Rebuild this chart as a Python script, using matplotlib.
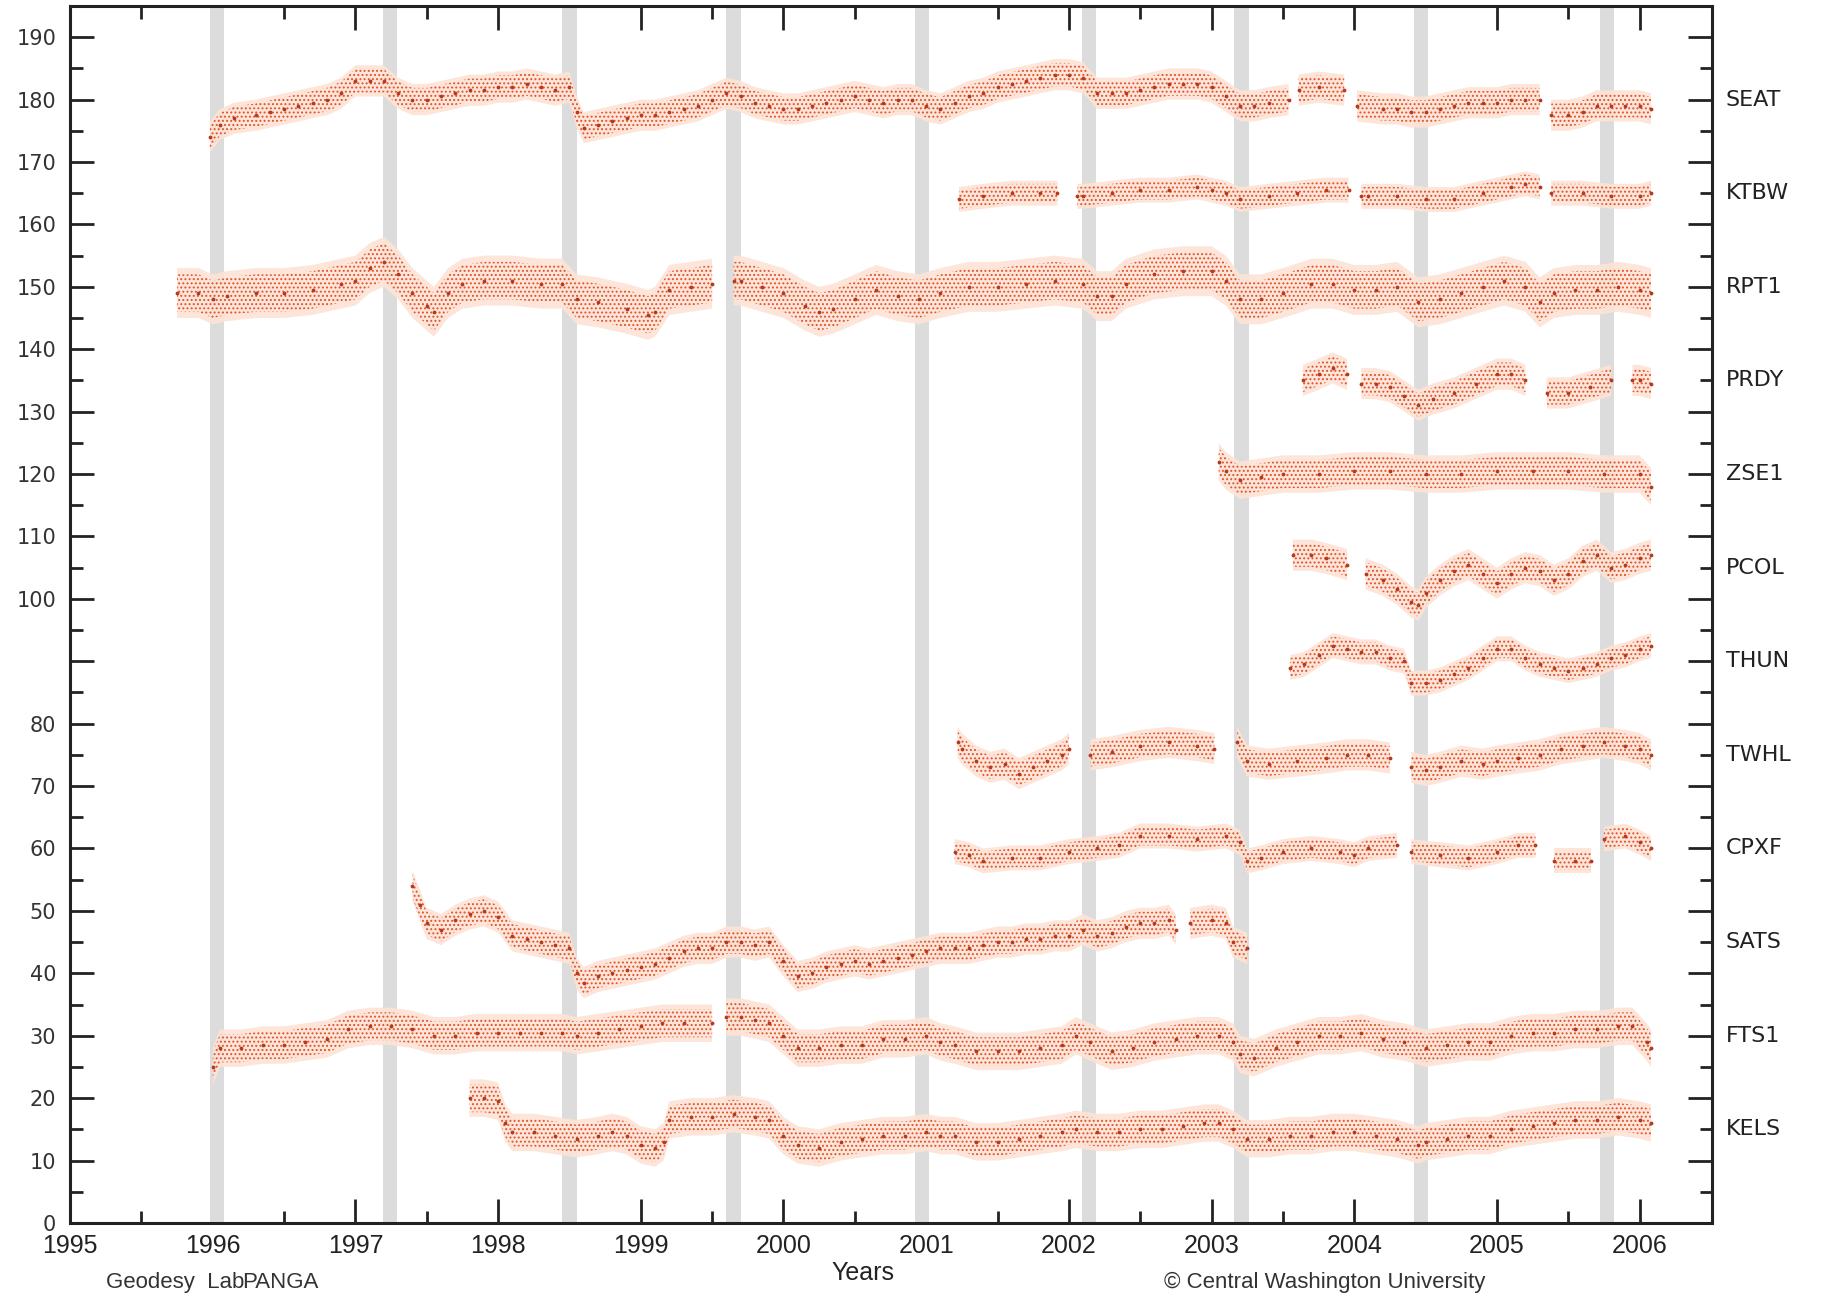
import numpy as np
import matplotlib
matplotlib.use("Agg")
import matplotlib.pyplot as plt

# GPS vertical time series, PANGA stations (offset for display, mm)
stations = ["SEAT", "KTBW", "RPT1", "PRDY", "ZSE1", "PCOL",
            "THUN", "TWHL", "CPXF", "SATS", "FTS1", "KELS"]
label_levels = [180, 165, 150, 135, 120, 105, 90, 75, 60, 45, 30, 15]
scatter_mm = [2.5, 2.0, 4.0, 2.5, 3.0, 2.5, 2.0, 2.5, 2.0, 2.5, 3.0, 3.0]

# episodic tremor and slip events (grey bars)
ets_years = [1996.03, 1997.24, 1998.50, 1999.65, 2000.97,
             2002.14, 2003.21, 2004.47, 2005.77]

nan = np.nan

seat_t = [1995.98, 1996.05, 1996.15, 1996.3, 1996.4, 1996.5, 1996.6, 1996.7, 1996.8, 1996.9,
          1997.0, 1997.1, 1997.2, 1997.3, 1997.4, 1997.5, 1997.6, 1997.7, 1997.8, 1997.9,
          1998.0, 1998.1, 1998.2, 1998.3, 1998.4, 1998.5, 1998.55, 1998.6, 1998.7, 1998.8,
          1998.9, 1999.0, 1999.1, 1999.2, 1999.3, 1999.4, 1999.5, 1999.6, 1999.7, 1999.8,
          1999.9, 2000.0, 2000.1, 2000.2, 2000.3, 2000.4, 2000.5, 2000.6, 2000.7, 2000.8,
          2000.9, 2001.0, 2001.1, 2001.2, 2001.3, 2001.4, 2001.5, 2001.6, 2001.7, 2001.8,
          2001.9, 2002.0, 2002.1, 2002.2, 2002.3, 2002.4, 2002.5, 2002.6, 2002.7, 2002.8,
          2002.9, 2003.0, 2003.1, 2003.2, 2003.3, 2003.4, 2003.54, 2003.57, 2003.61, 2003.75,
          2003.93, 2003.97, 2004.02, 2004.2, 2004.3, 2004.4, 2004.5, 2004.6, 2004.7, 2004.8,
          2004.9, 2005.0, 2005.1, 2005.2, 2005.3, 2005.34, 2005.38, 2005.5, 2005.6, 2005.7,
          2005.8, 2005.9, 2006.0, 2006.08]
seat_v = [174, 176, 177, 177.5, 178, 178.5, 179, 179.5, 180, 181,
          183, 183, 183, 181, 180, 180, 180.5, 181, 181.5, 181.5,
          182, 182, 182.5, 182, 181.5, 182, 178, 175.5, 176, 176.5,
          177, 177.5, 177.5, 178, 178.5, 179, 180, 181, 180.5, 179.5,
          179, 178.5, 178.5, 179, 179.5, 180, 180.5, 180, 179.5, 180,
          180, 179, 178.5, 179.5, 180.5, 181, 182, 182.5, 183, 183.5,
          184, 184, 183.5, 181, 181, 181, 181.5, 182, 182.5, 182.5,
          182.5, 182, 180.5, 179, 179, 179.5, 180, nan, 181.5, 182,
          181.5, nan, 179, 178.5, 178.5, 178, 178, 178.5, 179, 179.5,
          179.5, 179.5, 180, 180, 180, nan, 177.5, 177.5, 178, 179,
          179, 179, 179, 178.5]

ktbw_t = [2001.23, 2001.4, 2001.6, 2001.8, 2001.92, 2001.98, 2002.06, 2002.1, 2002.3, 2002.5,
          2002.7, 2002.9, 2003.0, 2003.1, 2003.2, 2003.4, 2003.6, 2003.8, 2003.96, 2004.0,
          2004.05, 2004.1, 2004.3, 2004.5, 2004.7, 2004.9, 2005.1, 2005.2, 2005.3, 2005.34,
          2005.38, 2005.6, 2005.8, 2006.0, 2006.08]
ktbw_v = [164, 164.5, 165, 165, 165, nan, 164.5, 164.5, 165, 165.5,
          165.5, 166, 165.5, 165, 164, 164.5, 165, 165.5, 165.5, nan,
          164.5, 164.5, 164.5, 164, 164, 165, 166, 166.5, 166, nan,
          165, 165, 164.5, 164.5, 165]

rpt1_t = [1995.75, 1995.9, 1996.0, 1996.1, 1996.3, 1996.5, 1996.7, 1996.9, 1997.0, 1997.1,
          1997.2, 1997.3, 1997.4, 1997.5, 1997.55, 1997.65, 1997.75, 1997.9, 1998.1, 1998.3,
          1998.45, 1998.55, 1998.7, 1998.9, 1999.05, 1999.1, 1999.2, 1999.35, 1999.5, 1999.57,
          1999.65, 1999.7, 1999.85, 2000.0, 2000.15, 2000.25, 2000.35, 2000.5, 2000.65, 2000.8,
          2000.95, 2001.1, 2001.3, 2001.5, 2001.7, 2001.9, 2002.1, 2002.2, 2002.3, 2002.4,
          2002.6, 2002.8, 2003.0, 2003.1, 2003.2, 2003.35, 2003.5, 2003.7, 2003.85, 2004.0,
          2004.15, 2004.3, 2004.45, 2004.6, 2004.75, 2004.9, 2005.05, 2005.2, 2005.3, 2005.4,
          2005.55, 2005.7, 2005.85, 2006.0, 2006.08]
rpt1_v = [149, 149, 148, 148.5, 149, 149, 149.5, 150.5, 151, 153,
          154, 152, 149, 147, 146, 149, 150.5, 151, 151, 150.5,
          150.5, 148, 147.5, 146.5, 145.5, 146, 149.5, 150, 150.5, nan,
          151, 151, 150, 149, 147, 146, 146.5, 148, 149.5, 148.5,
          148, 149, 150, 150, 150.5, 151, 150.5, 148.5, 148.5, 150.5,
          152, 152.5, 152.5, 151, 148, 148, 149, 150.5, 150.5, 149.5,
          149.5, 150, 147.5, 148, 149, 150, 151, 150, 147.5, 149,
          149.5, 149.5, 150, 149.5, 149]

prdy_t = [2003.64, 2003.75, 2003.85, 2003.95, 2004.0, 2004.05, 2004.15, 2004.25, 2004.35, 2004.45,
          2004.55, 2004.7, 2004.85, 2005.0, 2005.1, 2005.2, 2005.28, 2005.35, 2005.5, 2005.65,
          2005.8, 2005.85, 2005.95, 2006.0, 2006.08]
prdy_v = [135, 136, 137, 136, nan, 134.5, 134.5, 134, 132.5, 131,
          132, 133, 134.5, 136, 136, 135, nan, 133, 133, 134,
          135, nan, 135, 135, 134.5]

zse1_t = [2003.05, 2003.1, 2003.2, 2003.35, 2003.5, 2003.75, 2004.0, 2004.25, 2004.5, 2004.75,
          2005.0, 2005.25, 2005.5, 2005.75, 2006.0, 2006.08]
zse1_v = [122, 120.5, 119, 119.5, 120, 120, 120.5, 120.5, 120, 120,
          120.5, 120.5, 120.5, 120, 120, 118]

pcol_t = [2003.57, 2003.7, 2003.8, 2003.95, 2004.0, 2004.08, 2004.2, 2004.3, 2004.4, 2004.45,
          2004.5, 2004.6, 2004.7, 2004.8, 2004.9, 2005.0, 2005.1, 2005.2, 2005.3, 2005.4,
          2005.5, 2005.6, 2005.7, 2005.8, 2005.9, 2006.0, 2006.08]
pcol_v = [107, 107, 106.5, 105.5, nan, 104, 103, 101.5, 99.5, 99,
          101, 103, 104.5, 105.5, 104, 102.5, 104, 105, 104.5, 103,
          104, 106, 107, 105, 105.5, 106.5, 107]

thun_t = [2003.55, 2003.65, 2003.75, 2003.85, 2003.95, 2004.05, 2004.15, 2004.25, 2004.35, 2004.4,
          2004.5, 2004.6, 2004.7, 2004.8, 2004.9, 2005.0, 2005.1, 2005.2, 2005.3, 2005.4,
          2005.5, 2005.6, 2005.7, 2005.8, 2005.9, 2006.0, 2006.08]
thun_v = [89, 89.5, 91, 92.5, 92, 91.5, 91.5, 90.5, 90, 86.5,
          86.5, 87, 88, 89, 90.5, 92, 92, 90.5, 89.5, 89,
          88.5, 89, 89.5, 90.5, 91, 92, 92.5]

twhl_t = [2001.22, 2001.25, 2001.35, 2001.45, 2001.55, 2001.65, 2001.75, 2001.85, 2001.95, 2002.0,
          2002.08, 2002.15, 2002.3, 2002.5, 2002.7, 2002.9, 2003.02, 2003.1, 2003.18, 2003.25,
          2003.4, 2003.6, 2003.8, 2003.95, 2004.1, 2004.25, 2004.32, 2004.4, 2004.5, 2004.6,
          2004.75, 2004.9, 2005.0, 2005.15, 2005.3, 2005.45, 2005.6, 2005.75, 2005.9, 2006.0,
          2006.08]
twhl_v = [77, 76, 74, 73, 73.5, 72, 73, 74, 75, 76,
          nan, 75, 75.5, 76.5, 77, 76.5, 76, nan, 77, 74,
          73.5, 74, 74.5, 75, 75, 74.5, nan, 73, 72.5, 73,
          74, 73.5, 74, 74.5, 75, 76, 76.5, 77, 76.5, 76,
          75]

cpxf_t = [2001.2, 2001.3, 2001.4, 2001.6, 2001.8, 2002.0, 2002.2, 2002.35, 2002.5, 2002.7,
          2002.9, 2003.1, 2003.2, 2003.25, 2003.35, 2003.5, 2003.7, 2003.9, 2004.0, 2004.1,
          2004.3, 2004.34, 2004.4, 2004.6, 2004.8, 2005.0, 2005.15, 2005.27, 2005.33, 2005.4,
          2005.55, 2005.66, 2005.7, 2005.75, 2005.9, 2006.0, 2006.08]
cpxf_v = [59.5, 59, 58, 58.5, 58.5, 59.5, 60, 60.5, 62, 62,
          61.5, 62, 61, 58, 58.5, 59.5, 60, 59.5, 59, 60,
          60.5, nan, 59.5, 59, 58.5, 59.5, 60.5, 60.5, nan, 58,
          58, 58, nan, 61.5, 62, 61, 60]

sats_t = [1997.4, 1997.45, 1997.5, 1997.6, 1997.7, 1997.8, 1997.9, 1998.0, 1998.1, 1998.2,
          1998.3, 1998.4, 1998.5, 1998.55, 1998.6, 1998.7, 1998.8, 1998.9, 1999.0, 1999.1,
          1999.2, 1999.3, 1999.4, 1999.5, 1999.6, 1999.7, 1999.8, 1999.9, 2000.0, 2000.1,
          2000.2, 2000.3, 2000.4, 2000.5, 2000.6, 2000.7, 2000.8, 2000.9, 2001.0, 2001.1,
          2001.2, 2001.3, 2001.4, 2001.5, 2001.6, 2001.7, 2001.8, 2001.9, 2002.0, 2002.1,
          2002.2, 2002.3, 2002.4, 2002.5, 2002.6, 2002.7, 2002.75, 2002.8, 2002.85, 2003.0,
          2003.1, 2003.15, 2003.25]
sats_v = [54, 51, 48, 47, 48.5, 49.5, 50, 49, 46, 45.5,
          45, 44.5, 44, 40, 38.5, 39.5, 40, 40.5, 41, 41.5,
          42.5, 43.5, 44, 44, 45, 45, 44.5, 45, 42, 39.5,
          40, 41, 41.5, 42, 41.5, 42, 42.5, 43, 43.5, 44,
          44, 44, 44.5, 45, 45, 45.5, 45.5, 46, 46, 47,
          46, 46.5, 47.5, 48, 48, 48.5, 47, nan, 48, 48.5,
          48, 45, 44]

fts1_t = [1996.0, 1996.05, 1996.2, 1996.35, 1996.5, 1996.65, 1996.8, 1996.95, 1997.1, 1997.25,
          1997.4, 1997.55, 1997.7, 1997.85, 1998.0, 1998.15, 1998.3, 1998.45, 1998.55, 1998.7,
          1998.85, 1999.0, 1999.15, 1999.3, 1999.5, 1999.55, 1999.6, 1999.7, 1999.8, 1999.9,
          2000.0, 2000.1, 2000.25, 2000.4, 2000.55, 2000.7, 2000.85, 2001.0, 2001.1, 2001.2,
          2001.35, 2001.5, 2001.65, 2001.8, 2001.95, 2002.05, 2002.15, 2002.3, 2002.45, 2002.6,
          2002.75, 2002.9, 2003.05, 2003.15, 2003.2, 2003.3, 2003.45, 2003.6, 2003.75, 2003.9,
          2004.05, 2004.2, 2004.35, 2004.5, 2004.65, 2004.8, 2004.95, 2005.1, 2005.25, 2005.4,
          2005.55, 2005.7, 2005.85, 2005.95, 2006.05, 2006.08]
fts1_v = [25, 28, 28, 28.5, 28.5, 29, 29.5, 31, 31.5, 31.5,
          31, 30, 30, 30.5, 30.5, 30.5, 30.5, 30.5, 30, 30.5,
          31, 31.5, 32, 32, 32, nan, 33, 33, 32.5, 32,
          30, 28, 28, 28.5, 28.5, 29.5, 29.5, 30, 29, 28.5,
          27.5, 27.5, 27.5, 28, 28.5, 30, 29, 27.5, 28, 29,
          29.5, 30, 30, 29, 27, 26.5, 28, 29, 30, 30,
          30.5, 29.5, 29, 28, 28.5, 29, 29, 30, 30.5, 30.5,
          31, 31, 31.5, 31.5, 29, 28]

kels_t = [1997.8, 1997.9, 1998.0, 1998.05, 1998.1, 1998.25, 1998.4, 1998.55, 1998.7, 1998.8,
          1998.9, 1999.0, 1999.1, 1999.16, 1999.2, 1999.35, 1999.5, 1999.65, 1999.8, 1999.9,
          2000.0, 2000.1, 2000.25, 2000.4, 2000.55, 2000.7, 2000.85, 2001.0, 2001.1, 2001.2,
          2001.35, 2001.5, 2001.65, 2001.8, 2001.95, 2002.05, 2002.2, 2002.35, 2002.5, 2002.65,
          2002.8, 2002.95, 2003.05, 2003.15, 2003.25, 2003.4, 2003.55, 2003.7, 2003.85, 2004.0,
          2004.15, 2004.3, 2004.45, 2004.5, 2004.65, 2004.8, 2004.95, 2005.1, 2005.25, 2005.4,
          2005.55, 2005.7, 2005.85, 2006.0, 2006.08]
kels_v = [20, 20, 19.5, 16, 14.5, 14.5, 14, 13.5, 14, 14.5,
          14, 12.5, 12, 13, 16.5, 17, 17, 17.5, 17, 16.5,
          14, 12.5, 12, 13, 13.5, 14, 14, 14.5, 14, 14,
          13, 13, 13.5, 14, 14.5, 15, 14.5, 14.5, 15, 15,
          15.5, 16, 16, 15, 13.5, 13.5, 14, 14, 14.5, 14.5,
          14, 13.5, 12.5, 13, 13.5, 14, 14, 15, 15.5, 16,
          16.5, 16.5, 17, 16.5, 16]

series = [(seat_t, seat_v), (ktbw_t, ktbw_v), (rpt1_t, rpt1_v), (prdy_t, prdy_v),
          (zse1_t, zse1_v), (pcol_t, pcol_v), (thun_t, thun_v), (twhl_t, twhl_v),
          (cpxf_t, cpxf_v), (sats_t, sats_v), (fts1_t, fts1_v), (kels_t, kels_v)]

plt.rcParams["hatch.linewidth"] = 0.9

fig = plt.figure(figsize=(18.24, 13.01), dpi=100)
ax = fig.add_axes([0.0384, 0.060, 0.9004, 0.9354])
ax.set_axisbelow(True)

for yr in ets_years:
    ax.axvspan(yr - 0.05, yr + 0.05, color="#dcdcdc", lw=0, zorder=1)

for (t, v), sp in zip(series, scatter_mm):
    t = np.array(t)
    v = np.array(v, dtype=float)
    # light halo of the daily scatter
    ax.fill_between(t, v - sp, v + sp, facecolor="#fde3d6", edgecolor="none",
                    alpha=0.9, zorder=2)
    # speckle texture for the dense core
    ax.fill_between(t, v - sp * 0.75, v + sp * 0.75, facecolor="none",
                    edgecolor="#e0522a", linewidth=0, hatch="....", zorder=3)
    ax.plot(t, v, ls="none", marker=".", ms=3.5, color="#b83a1c", zorder=5)

ax.set_xlim(1995, 2006.51)
ax.set_ylim(0, 195)

ax.set_xticks(range(1995, 2007))
ax.set_xticks(np.arange(1995.5, 2006.5, 1.0), minor=True)
ax.set_xticklabels([str(y) for y in range(1995, 2007)])
yt = list(range(0, 200, 10))
ax.set_yticks(yt)
ax.set_yticklabels(["" if y == 90 else str(y) for y in yt])
ax.set_yticks(np.arange(5, 195, 10), minor=True)

ax.tick_params(axis="both", which="major", direction="in", length=17, width=2,
               top=True, right=True, color="#222222")
ax.tick_params(axis="both", which="minor", direction="in", length=9, width=2,
               top=True, right=True, color="#222222")
ax.tick_params(axis="y", which="major", labelsize=15, labelcolor="#333333", pad=10)
ax.tick_params(axis="x", which="major", pad=8)
narrow = ["Liberation Sans", "DejaVu Sans"]
for lab in ax.get_xticklabels():
    lab.set_fontfamily(narrow)
    lab.set_fontsize(18)
    lab.set_color("#222222")
for sp_name in ax.spines:
    ax.spines[sp_name].set_linewidth(2.2)
    ax.spines[sp_name].set_color("#222222")

for name, lev in zip(stations, label_levels):
    ax.text(1.008, lev, name, transform=ax.get_yaxis_transform(), fontsize=16,
            color="#222222", va="center", ha="left")

fig.text(0.058, 0.010, "Geodesy  Lab", fontsize=16, family=narrow, color="#333333")
fig.text(0.133, 0.010, "PANGA", fontsize=16, family=narrow, color="#333333")
fig.text(0.473, 0.016, "Years", fontsize=18, family=narrow, color="#222222", ha="center")
fig.text(0.638, 0.010, "\u00a9 Central Washington University", fontsize=16,
         family=narrow, color="#333333")

fig.savefig("out.png", dpi=100)
